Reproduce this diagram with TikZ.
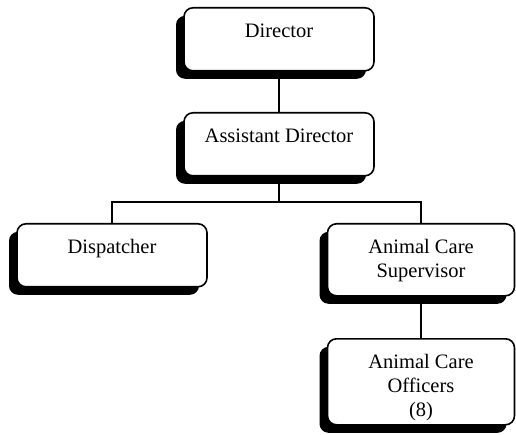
\documentclass[tikz,border=0pt]{standalone}
\usepackage{fontspec}
\setmainfont{Liberation Serif}
\usetikzlibrary{shadows,backgrounds}
\newcommand{\posttext}[3]{\parbox[c][#1][t]{#2}{\centering\rule{0pt}{30pt}#3}}

\begin{document}
\begin{tikzpicture}[x=1pt,y=-1pt,
    post/.style={draw,line width=1.6pt,rounded corners=9pt,fill=white,inner sep=0pt,anchor=north,
      font=\fontsize{20.5}{24}\selectfont,
      drop shadow={shadow xshift=-8pt,shadow yshift=-8pt,opacity=1,fill=black}},
    link/.style={line width=2pt}]
  \useasboundingbox (0,0) rectangle (516,435);
  \node[post] (dir) at (279,7) {\posttext{63pt}{190pt}{Director}};
  \node[post] (asst) at (279,112) {\posttext{63pt}{190pt}{Assistant Director}};
  \node[post] (disp) at (112,223) {\posttext{63pt}{190pt}{Dispatcher}};
  \node[post] (sup) at (421,223) {\posttext{72pt}{187pt}{Animal Care\\Supervisor}};
  \node[post] (off) at (421,338) {\posttext{86pt}{187pt}{Animal Care\\Officers\\(8)}};
  \begin{scope}[on background layer]
    \draw[link] (dir.south) -- (asst.north);
    \draw[link] (asst.south) -- ++(0,25) coordinate (bar);
    \draw[link] (disp.north) |- (bar) -| (sup.north);
    \draw[link] (sup.south) -- (off.north);
  \end{scope}
\end{tikzpicture}
\end{document}
